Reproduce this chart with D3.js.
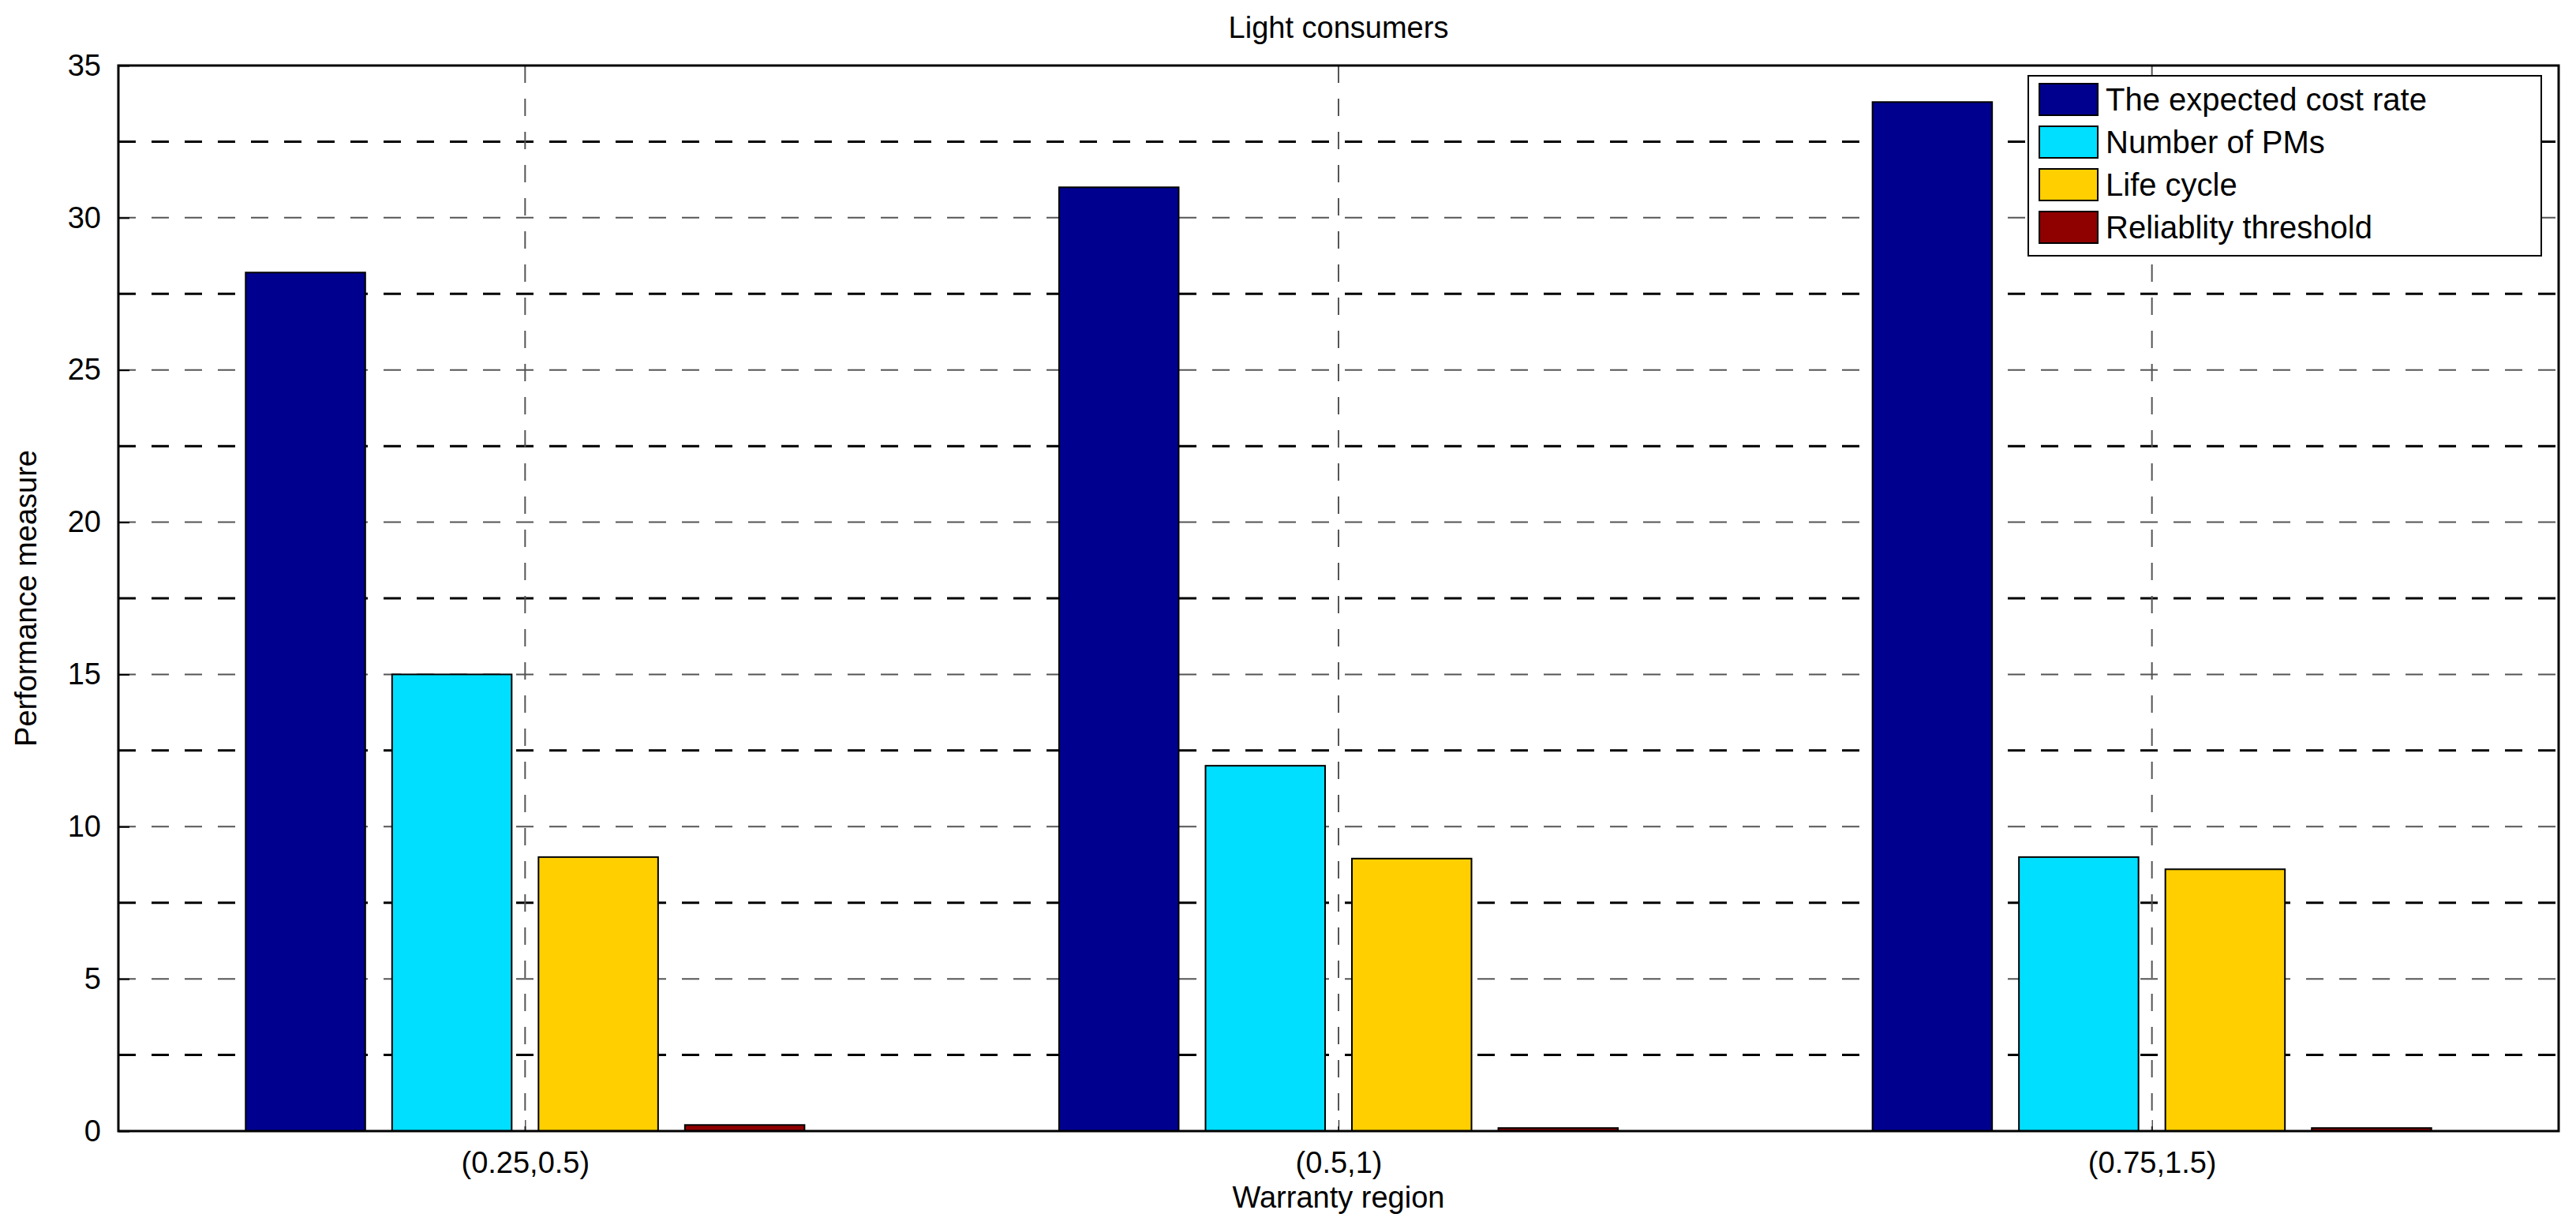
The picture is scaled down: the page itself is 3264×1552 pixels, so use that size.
<!DOCTYPE html>
<html><head><meta charset="utf-8">
<script src="https://cdn.jsdelivr.net/npm/d3@7"></script>
<style>body{margin:0;background:#fff}svg{display:block;font-family:"Liberation Sans",Arial,sans-serif}</style>
</head><body><svg id="c" width="3264" height="1552"></svg>
<script>
const categories = ["(0.25,0.5)", "(0.5,1)", "(0.75,1.5)"];
const seriesNames = ["The expected cost rate", "Number of PMs", "Life cycle", "Reliablity threshold"];
const costRate = [28.2, 31.0, 33.8];
const numberPMs = [15, 12, 9];
const lifeCycle = [9.0, 8.95, 8.6];
const reliability = [0.2, 0.1, 0.1];
const colors = ["#00008F", "#00DFFF", "#FFCF00", "#8F0000"];
const yTicks = [0, 5, 10, 15, 20, 25, 30, 35];
const series = [costRate, numberPMs, lifeCycle, reliability];

const svg = d3.select("#c");
const L = 150, R = 3242, T = 83, B = 1433;
const x = d3.scaleLinear().domain([0.5, 3.5]).range([L, R]);
const y = d3.scaleLinear().domain([0, 35]).range([B, T]);
const offs = [-0.27, -0.09, 0.09, 0.27], bw = 0.147;

// grid
const g = svg.append("g");
d3.range(2.5, 35, 2.5).forEach(v => {
  g.append("line").attr("x1", L).attr("x2", R).attr("y1", y(v)).attr("y2", y(v))
    .attr("stroke", v % 5 === 0 ? "#555" : "#000").attr("stroke-width", v % 5 === 0 ? 2 : 3)
    .attr("stroke-dasharray", "22,20");
});
categories.forEach((c, i) => {
  g.append("line").attr("x1", x(i + 1)).attr("x2", x(i + 1)).attr("y1", T).attr("y2", B)
    .attr("stroke", "#555").attr("stroke-width", 2).attr("stroke-dasharray", "22,20");
});

// bars
series.forEach((s, k) => {
  svg.append("g").selectAll("rect").data(s).join("rect")
    .attr("x", (d, i) => x(i + 1 + offs[k] - bw / 2))
    .attr("width", x(bw) - x(0))
    .attr("y", d => y(d)).attr("height", d => y(0) - y(d))
    .attr("fill", colors[k]).attr("stroke", "#000").attr("stroke-width", 2);
});

// axes frame
svg.append("rect").attr("x", L).attr("y", T).attr("width", R - L).attr("height", B - T)
  .attr("fill", "none").attr("stroke", "#000").attr("stroke-width", 3);
const ya = svg.append("g").attr("transform", `translate(${L},0)`)
  .call(d3.axisLeft(y).tickValues(yTicks).tickSize(-14).tickPadding(22));
ya.select(".domain").remove();
ya.selectAll("text").attr("font-size", 38).attr("fill", "#000").attr("font-family", "Liberation Sans, Arial");
ya.selectAll("line").attr("stroke-width", 2);
const xa = svg.append("g").attr("transform", `translate(0,${B})`)
  .call(d3.axisBottom(x).tickValues([1, 2, 3]).tickFormat(d => categories[d - 1]).tickSize(-14).tickPadding(26));
xa.select(".domain").remove();
xa.selectAll("text").attr("font-size", 38).attr("fill", "#000").attr("font-family", "Liberation Sans, Arial");

svg.append("text").attr("x", (L + R) / 2).attr("y", 48).attr("text-anchor", "middle").attr("font-size", 38).text("Light consumers");
svg.append("text").attr("x", (L + R) / 2).attr("y", 1530).attr("text-anchor", "middle").attr("font-size", 38).text("Warranty region");
svg.append("text").attr("transform", `translate(46,${(T + B) / 2}) rotate(-90)`).attr("text-anchor", "middle").attr("font-size", 38).text("Performance measure");

// legend
const lg = svg.append("g");
lg.append("rect").attr("x", 2570).attr("y", 96).attr("width", 650).attr("height", 228).attr("fill", "#fff").attr("stroke", "#000").attr("stroke-width", 2);
seriesNames.forEach((n, k) => {
  const yy = 106 + k * 54;
  lg.append("rect").attr("x", 2584).attr("y", yy).attr("width", 74).attr("height", 40).attr("fill", colors[k]).attr("stroke", "#000").attr("stroke-width", 2);
  lg.append("text").attr("x", 2668).attr("y", yy + 34).attr("font-size", 40).text(n);
});
</script></body></html>
